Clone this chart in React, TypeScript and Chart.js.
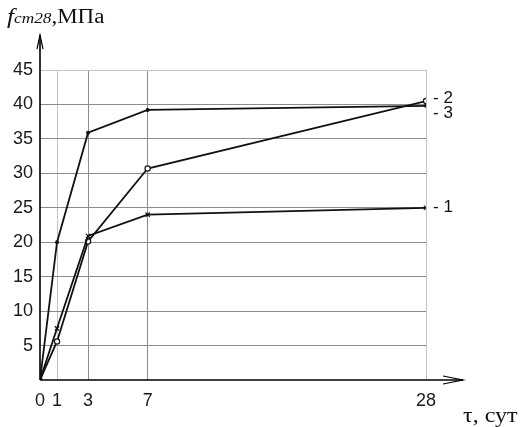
import React, { useEffect, useRef } from "react";
import { Chart, registerables, LinearScale } from "chart.js";

// ---- data ----
const X_DAYS = [0, 1, 3, 7, 28];
const X_TICKS = [0, 1, 3, 7, 28];
const Y_TICK_STEP = 5;
const Y_MAX = 45;
const SERIES_LABELS = ["1", "2", "3"];
const SERIES_1 = [0, 7.5, 20.9, 24.0, 25.0];
const SERIES_2 = [0, 5.6, 20.1, 30.7, 40.5];
const SERIES_3 = [0, 20.0, 35.9, 39.2, 39.8];

// ---- layout of the hand-drawn (non-uniform) time axis ----
const X_BREAK_VALUES = [0, 1, 3, 7, 28];
const X_BREAK_PIXELS = [0, 17, 48, 107.5, 385.5];

function valueToDecimal(v: number): number {
  const vs = X_BREAK_VALUES;
  const ps = X_BREAK_PIXELS;
  const total = ps[ps.length - 1];
  if (v <= vs[0]) return (ps[0] + (v - vs[0]) * ((ps[1] - ps[0]) / (vs[1] - vs[0]))) / total;
  for (let i = 1; i < vs.length; i++) {
    if (v <= vs[i]) {
      const t = (v - vs[i - 1]) / (vs[i] - vs[i - 1]);
      return (ps[i - 1] + t * (ps[i] - ps[i - 1])) / total;
    }
  }
  const n = vs.length - 1;
  return (ps[n] + (v - vs[n]) * ((ps[n] - ps[n - 1]) / (vs[n] - vs[n - 1]))) / total;
}

function decimalToValue(d: number): number {
  const vs = X_BREAK_VALUES;
  const ps = X_BREAK_PIXELS;
  const p = d * ps[ps.length - 1];
  for (let i = 1; i < ps.length; i++) {
    if (p <= ps[i] || i === ps.length - 1) {
      const t = (p - ps[i - 1]) / (ps[i] - ps[i - 1]);
      return vs[i - 1] + t * (vs[i] - vs[i - 1]);
    }
  }
  return vs[vs.length - 1];
}

class PiecewiseScale extends LinearScale {
  static id = "piecewise";
  static defaults = LinearScale.defaults;
  getPixelForValue(value: any) {
    if (value === null || value === undefined || isNaN(value)) return NaN;
    return this.getPixelForDecimal(valueToDecimal(+value));
  }
  getValueForPixel(pixel: number) {
    return decimalToValue(this.getDecimalForPixel(pixel));
  }
}

Chart.register(...registerables, PiecewiseScale as any);

const NUM_FONT = "'Liberation Sans', Arial, sans-serif";
const SERIF = "'Liberation Serif', 'Times New Roman', serif";
const X_ARROW_TIP = 463;
const Y_ARROW_TIP = 35;
const LABEL_DY = [0, -3, 7];

const axesPlugin = {
  id: "axesArrows",
  beforeDatasetsDraw(chart: any) {
    const { ctx, scales } = chart;
    const x0 = scales.x.getPixelForValue(0);
    const y0 = scales.y.getPixelForValue(0);
    ctx.save();
    ctx.strokeStyle = "#000";
    ctx.lineWidth = 1.6;
    ctx.beginPath();
    ctx.moveTo(x0, y0);
    ctx.lineTo(x0, Y_ARROW_TIP);
    ctx.moveTo(x0, y0);
    ctx.lineTo(X_ARROW_TIP, y0);
    ctx.stroke();
    ctx.lineWidth = 1.2;
    ctx.beginPath();
    ctx.moveTo(x0 - 3, Y_ARROW_TIP + 14);
    ctx.lineTo(x0, Y_ARROW_TIP);
    ctx.lineTo(x0 + 3, Y_ARROW_TIP + 14);
    ctx.moveTo(X_ARROW_TIP - 20, y0 - 4);
    ctx.lineTo(X_ARROW_TIP, y0);
    ctx.lineTo(X_ARROW_TIP - 20, y0 + 4);
    ctx.stroke();
    ctx.restore();
  },
  afterDatasetsDraw(chart: any) {
    const { ctx } = chart;
    ctx.save();
    ctx.fillStyle = "#111";
    ctx.font = `17px ${NUM_FONT}`;
    ctx.textBaseline = "middle";
    ctx.textAlign = "left";
    chart.data.datasets.forEach((ds: any, i: number) => {
      const meta = chart.getDatasetMeta(i);
      const last = meta.data[meta.data.length - 1];
      ctx.fillText("- " + ds.label, last.x + 7, last.y + LABEL_DY[i]);
    });
    ctx.restore();
  },
};

function makeDataset(label: string, values: number[], style: string, radius: number, fill: string) {
  return {
    label,
    data: X_DAYS.map((x, i) => ({ x, y: values[i] })),
    borderColor: "#111",
    borderWidth: 1.8,
    pointStyle: (c: any) => (c.dataIndex === 0 ? "circle" : style),
    pointRadius: (c: any) => (c.dataIndex === 0 ? 2 : radius),
    pointBackgroundColor: (c: any) => (c.dataIndex === 0 ? "#111" : fill),
    pointBorderColor: "#111",
    pointBorderWidth: 1.2,
    tension: 0,
    fill: false,
  };
}

export default function App() {
  const ref = useRef<HTMLCanvasElement | null>(null);
  useEffect(() => {
    if (!ref.current) return;
    const chart = new Chart(ref.current, {
      type: "line",
      data: {
        datasets: [
          makeDataset(SERIES_LABELS[0], SERIES_1, "crossRot", 3, "#111"),
          makeDataset(SERIES_LABELS[1], SERIES_2, "circle", 2.6, "#fff"),
          makeDataset(SERIES_LABELS[2], SERIES_3, "circle", 1.4, "#111"),
        ] as any,
      },
      options: {
        animation: false,
        responsive: false,
        layout: { padding: { top: 70, right: 98, left: 0, bottom: 0 } },
        plugins: { legend: { display: false }, tooltip: { enabled: false } },
        scales: {
          x: {
            type: "piecewise" as any,
            min: 0,
            max: 28,
            afterBuildTicks: (s: any) => {
              s.ticks = X_TICKS.map((v) => ({ value: v }));
            },
            afterFit: (s: any) => {
              s.height = 47;
            },
            border: { display: false },
            grid: {
              drawTicks: false,
              lineWidth: 1,
              color: (c: any) => {
                const v = c.tick ? c.tick.value : null;
                if (v === 0) return "rgba(0,0,0,0)";
                if (v === 1 || v === 28) return "#c4c4c4";
                return "#8c8c8c";
              },
            },
            ticks: {
              autoSkip: false,
              maxRotation: 0,
              padding: 10,
              color: "#1a1a1a",
              font: { family: NUM_FONT, size: 18 },
              callback: (v: any) => String(v),
            },
          } as any,
          y: {
            type: "linear",
            min: 0,
            max: Y_MAX,
            afterFit: (s: any) => {
              s.width = 40;
            },
            border: { display: false },
            grid: {
              drawTicks: false,
              lineWidth: 1,
              color: (c: any) => {
                const v = c.tick ? c.tick.value : null;
                if (v === 0) return "rgba(0,0,0,0)";
                if (v === Y_MAX) return "#c4c4c4";
                return "#8c8c8c";
              },
            },
            ticks: {
              stepSize: Y_TICK_STEP,
              padding: 7,
              color: "#1a1a1a",
              font: { family: NUM_FONT, size: 18 },
              callback: (v: any) => (v === 0 ? "" : String(v)),
            },
          },
        },
      },
      plugins: [axesPlugin],
    });
    return () => chart.destroy();
  }, []);

  return (
    <div style={{ position: "fixed", left: 0, top: 0, width: 524, height: 427, background: "#fff" }}>
      <canvas ref={ref} width={524} height={427} style={{ position: "absolute", left: 0, top: 0 }} />
      <div
        style={{
          position: "absolute",
          left: 7,
          top: 4,
          fontFamily: SERIF,
          fontSize: 20,
          lineHeight: "24px",
          whiteSpace: "nowrap",
          color: "#111",
          transform: "scaleX(1.15)",
          transformOrigin: "left top",
        }}
      >
        <i style={{ fontSize: 22 }}>f</i>
        <i style={{ fontSize: 15 }}>cm28</i>
        <span>,МПа</span>
      </div>
      <div
        style={{
          position: "absolute",
          left: 463,
          top: 403,
          fontFamily: SERIF,
          fontSize: 20,
          lineHeight: "24px",
          whiteSpace: "nowrap",
          color: "#111",
          transform: "scaleX(1.2)",
          transformOrigin: "left top",
        }}
      >
        τ, сут
      </div>
    </div>
  );
}
